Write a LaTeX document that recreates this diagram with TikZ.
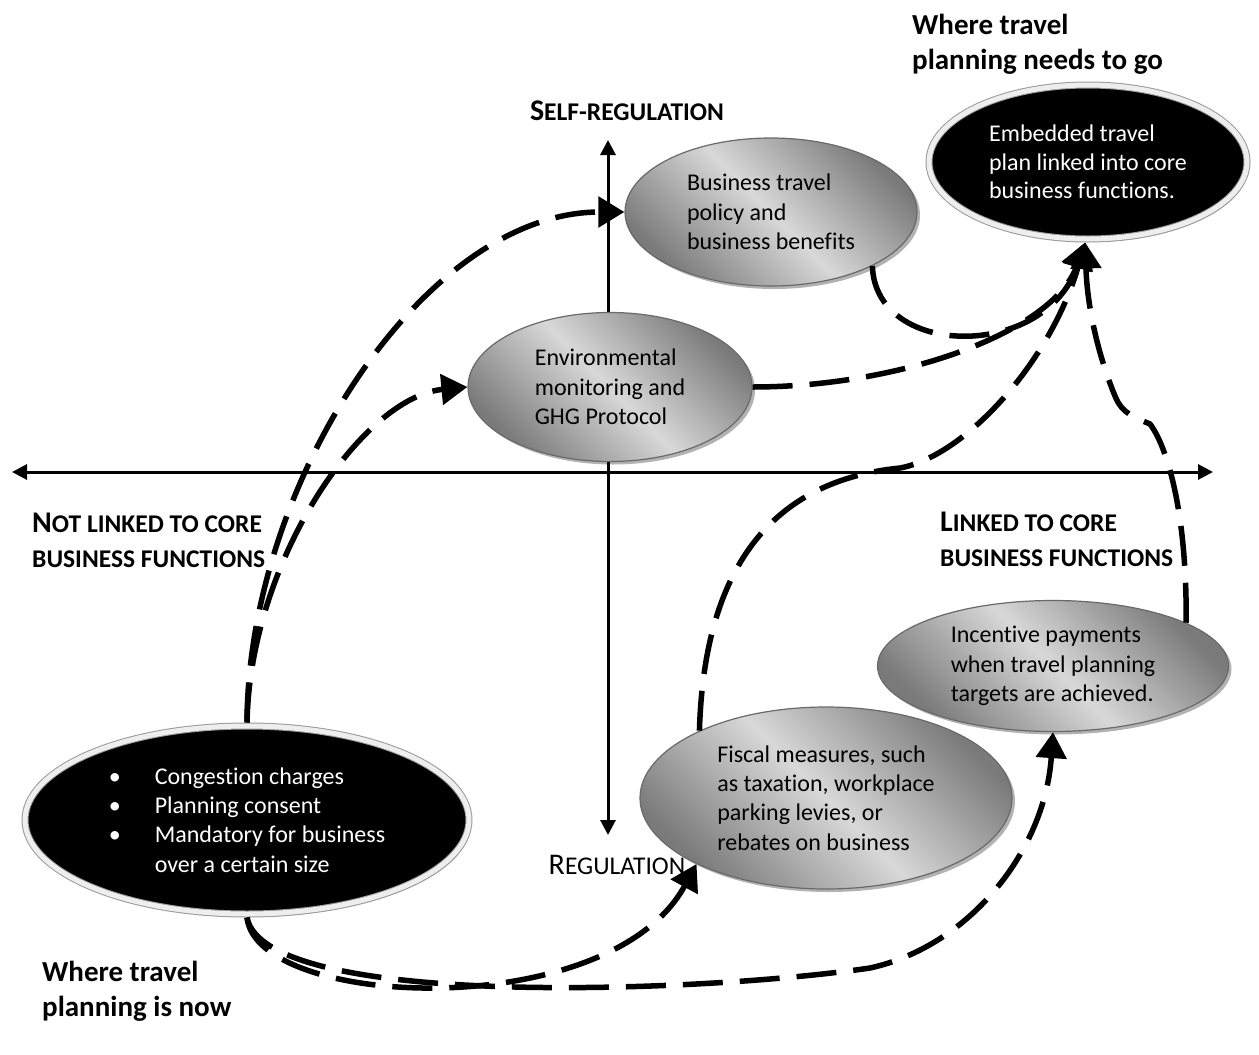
\documentclass[tikz,border=0pt]{standalone}
\usepackage{fontspec}
\setmainfont{Carlito}[Ligatures=CommonOff]
\usetikzlibrary{arrows.meta,positioning,shapes.geometric,shadows}
\definecolor{OvalDark}{RGB}{122,122,122}
\definecolor{OvalLight}{RGB}{216,216,216}
\definecolor{OvalEdge}{RGB}{105,105,105}
\definecolor{RimGrey}{RGB}{238,238,238}
\newcommand{\fakesc}[3][25.5]{#2{\fontsize{#1}{#1}\selectfont #3}}

\begin{document}
\begin{tikzpicture}[
  x=1pt, y=-1pt,
  font=\fontsize{24}{29.3}\selectfont,
  >={Triangle[length=26pt,width=30pt]},
  axisline/.style={{Triangle[length=15pt,width=15pt]}-{Triangle[length=15pt,width=15pt]},
                   line width=3pt},
  route/.style={->, line width=5.5pt, dash pattern=on 40pt off 17pt},
  oval/.style={ellipse, draw=OvalEdge, line width=1.2pt, inner sep=0pt, align=left,
               top color=OvalDark, bottom color=OvalDark, middle color=OvalLight,
               shading angle=-45,
               drop shadow={shadow xshift=3pt, shadow yshift=-3pt, fill=black, opacity=.3}},
  darkoval/.style={ellipse, fill=black, text=white, draw=black!40, double=RimGrey,
                   double distance=5pt, line width=1pt, outer sep=3.5pt, inner sep=0pt,
                   align=left,
                   drop shadow={shadow xshift=2pt, shadow yshift=-3pt, fill=black, opacity=.3}},
  quadrant/.style={inner sep=0pt, align=left, font=\fontsize{30}{35}\selectfont\bfseries},
  heading/.style={inner sep=0pt, align=left, font=\fontsize{29}{35}\selectfont\bfseries}
]
\useasboundingbox (0,0) rectangle (1259,1055);

% The two axes.
\coordinate (axleft) at (12,472);
\coordinate (axright) at (1213,472);
\coordinate (axtop) at (608,140);
\coordinate (axbot) at (608,835);
\draw[axisline] (axleft) -- (axright);
\draw[axisline] (axbot) -- (axtop);

\node[quadrant, above=19pt of axtop, xshift=19pt] (selfreg) {\fakesc{S}{ELF-REGULATION}};
\node[below=20pt of axbot, xshift=9pt, inner sep=0pt, font=\fontsize{30}{30}\selectfont]
  (reg) {\fakesc{R}{EGULATION}};
\node[quadrant, anchor=west] (notlinked) at (32,540)
  {\fakesc{N}{OT LINKED TO CORE}\\\fakesc{}{BUSINESS FUNCTIONS}};
\node[quadrant, anchor=west] (linked) at (940,539)
  {\fakesc{L}{INKED TO CORE}\\\fakesc{}{BUSINESS FUNCTIONS}};

% Where travel planning is now, and where it needs to go.
\node[darkoval, minimum width=444pt, minimum height=188pt] (nowplan) at (247,820)
  {\makebox[46pt][l]{\textbullet}Congestion charges\\
   \makebox[46pt][l]{\textbullet}Planning consent\\
   \makebox[46pt][l]{\textbullet}Mandatory for business\\
   \hspace*{46pt}over a certain size};
\node[darkoval, minimum width=318pt, minimum height=154pt,
      font=\fontsize{24}{28.5}\selectfont] (goalplan) at (1088,162)
  {Embedded travel\\plan linked into core\\business functions.};
\node[heading, anchor=west] (nowtitle) at (42,991) {Where travel\\planning is now};
\node[heading, anchor=west] (goaltitle) at (912,44) {Where travel\\planning needs to go};

% Intermediate measures.
\node[oval, minimum width=292pt, minimum height=148pt] (bizpolicy) at (771,212)
  {Business travel\\policy and\\business benefits};
\node[oval, minimum width=284pt, minimum height=149pt] (envmon) at (610,387)
  {Environmental\\monitoring and\\GHG Protocol};
\node[oval, minimum width=372pt, minimum height=182pt] (fiscal) at (826,798)
  {Fiscal measures, such\\as taxation, workplace\\parking levies, or\\rebates on business};
\node[oval, minimum width=351pt, minimum height=131pt] (incentive) at (1053,666)
  {Incentive payments\\when travel planning\\targets are achieved.};

\coordinate (fiscbend) at (900,468);
\coordinate (incbend) at (1150,424);
\coordinate (incwiggle) at (1115,396);
\coordinate (incbase) at (870,968);

% Routes out of current practice.
\draw[route] (nowplan.north) .. controls +(1,-240) and +(-200,0) .. (bizpolicy.west);
\draw[route] (nowplan.north) .. controls +(3,-162) and +(-105,10) .. (envmon.west);
\draw[route] (nowplan.south) .. controls +(10,92) and +(-87,160) .. (fiscal.207);
\draw[route] (nowplan.south) .. controls +(18,92) and +(-170,25) .. (incbase)
  .. controls +(100,-22) and +(-8,118) .. (incentive.south);

% Routes into embedded travel planning.
\draw[route] (bizpolicy.-28) .. controls +(3,93) and +(-40,118) .. (goalplan.-92);
\draw[route] (envmon.east) .. controls +(147,0) and +(-32,90) .. (goalplan.-92);
\draw[route] (fiscal.152) .. controls +(5,-173) and +(-120,12) .. (fiscbend)
  .. controls +(65,-12) and +(-35,120) .. (goalplan.-92);
\draw[route] (incentive.18) .. controls +(1,-114) and +(16,21) .. (incbend)
  .. controls +(-14,-6) and +(7,18) .. (incwiggle)
  .. controls +(-15,-36) and +(2,68) .. (goalplan.-92);

\end{tikzpicture}
\end{document}
